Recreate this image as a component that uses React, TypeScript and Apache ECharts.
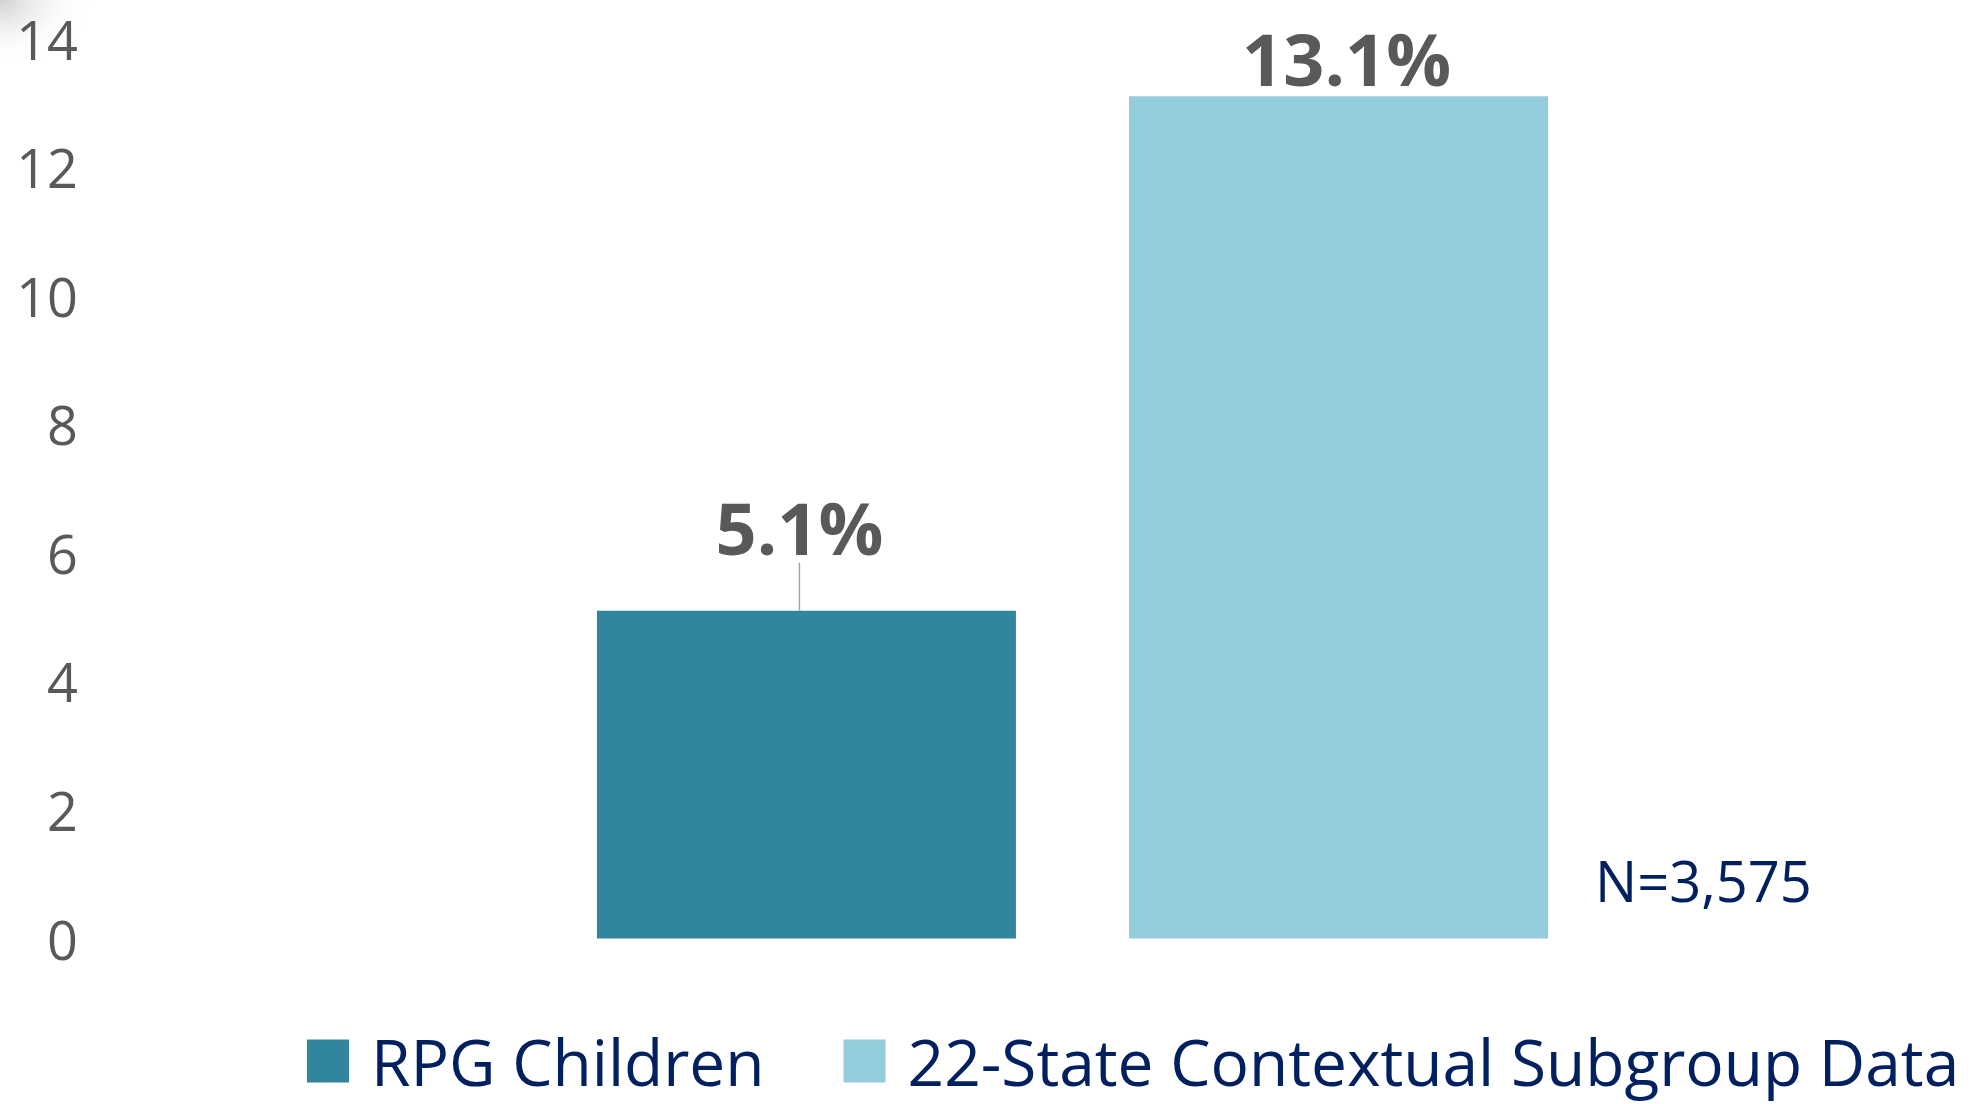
import React, { useEffect, useRef } from "react";
import * as echarts from "echarts";

const categories = [""];
const seriesNames = ["RPG Children", "22-State Contextual Subgroup Data"];
const rpgValues = [5.1];
const stateValues = [13.1];
const seriesColors = ["#31859C", "#93CDDD"];
const noteText = "N=3,575";

export default function App() {
  const ref = useRef<HTMLDivElement>(null);
  useEffect(() => {
    document.body.style.margin = "0";
    const chart = echarts.init(ref.current!, null, { renderer: "svg" });
    const labelBase = {
      show: true,
      position: "top",
      distance: 2,
      formatter: (p: any) => p.value.toFixed(1) + "%",
      color: "#595959",
      fontFamily: "Open Sans",
      fontWeight: "bold",
      fontSize: 72,
      lineHeight: 72,
    };
    chart.setOption({
      animation: false,
      backgroundColor: "#ffffff",
      grid: { left: 161, right: 0, top: 38.5, bottom: 165.5, containLabel: false },
      legend: {
        data: seriesNames,
        left: 302,
        top: 1024,
        icon: "rect",
        itemWidth: 42,
        itemHeight: 43,
        itemGap: 79,
        textStyle: {
          color: "#002060",
          fontFamily: "Open Sans",
          fontSize: 64,
          lineHeight: 64,
          padding: [0, 0, 0, 17],
        },
      },
      xAxis: {
        type: "category",
        data: categories,
        axisLine: { show: false },
        axisTick: { show: false },
        axisLabel: { show: false },
      },
      yAxis: {
        type: "value",
        min: 0,
        max: 14,
        interval: 2,
        axisLine: { show: false },
        axisTick: { show: false },
        splitLine: { show: false },
        axisLabel: {
          margin: 83,
          color: "#595959",
          fontFamily: "Open Sans",
          fontSize: 54,
        },
      },
      series: [
        {
          name: seriesNames[0],
          type: "bar",
          data: rpgValues,
          barWidth: 419,
          barGap: "27%",
          itemStyle: { color: seriesColors[0] },
          label: labelBase,
          labelLayout: { dx: -7, dy: -46 },
          labelLine: { show: true, lineStyle: { color: "#A6A6A6", width: 1.5 } },
        },
        {
          name: seriesNames[1],
          type: "bar",
          data: stateValues,
          barWidth: 419,
          itemStyle: { color: seriesColors[1] },
          label: labelBase,
          labelLayout: { dx: 8 },
        },
      ],
      graphic: [
        {
          type: "rect",
          left: 0,
          top: 0,
          shape: { width: 90, height: 65 },
          style: {
            fill: new echarts.graphic.RadialGradient(0, 0, 1, [
              { offset: 0, color: "rgba(120,120,120,0.35)" },
              { offset: 1, color: "rgba(255,255,255,0)" },
            ]),
          },
          silent: true,
          z: -1,
        },
        {
          type: "text",
          left: 1595,
          top: 852,
          style: {
            text: noteText,
            fill: "#002060",
            fontFamily: "Open Sans",
            fontSize: 56,
          },
        },
      ],
    });
    return () => chart.dispose();
  }, []);
  return (
    <div
      ref={ref}
      style={{ position: "absolute", left: 0, top: 0, width: 1984, height: 1104 }}
    />
  );
}
